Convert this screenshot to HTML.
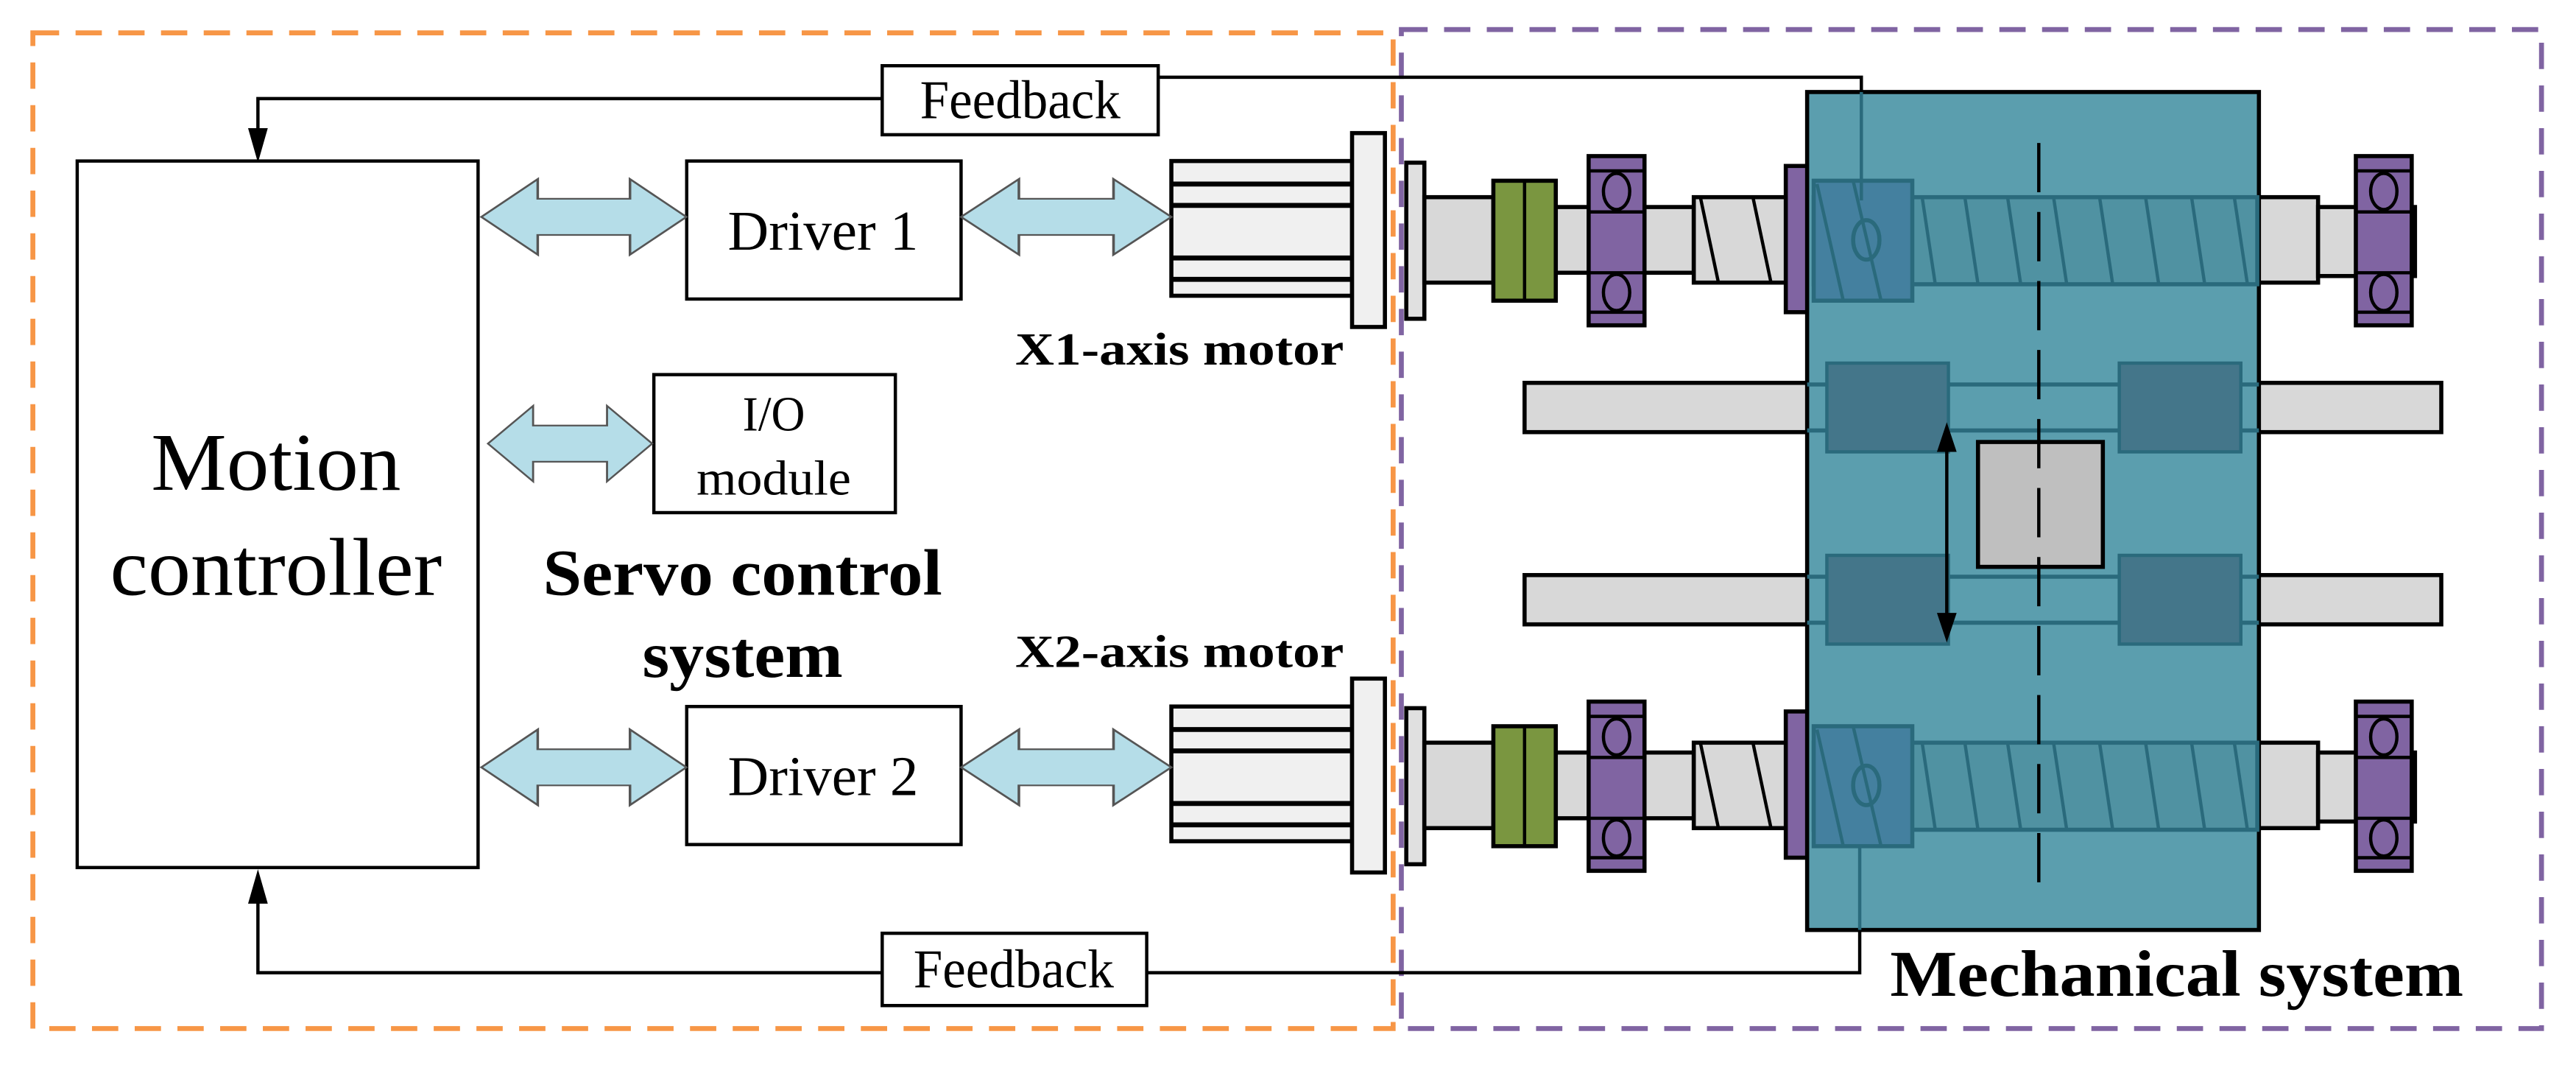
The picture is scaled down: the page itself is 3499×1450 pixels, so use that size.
<!DOCTYPE html>
<html><head><meta charset="utf-8"><style>
html,body{margin:0;padding:0;background:#fff;}
svg{display:block;}
text{font-family:"Liberation Serif",serif;}
</style></head><body>
<svg width="3499" height="1450" viewBox="0 0 1568 650" preserveAspectRatio="none" xmlns="http://www.w3.org/2000/svg">
<defs>
<g id="dbl"><polygon points="0,0 22,-23 22,-11 58,-11 58,-23 80,0 58,23 58,11 22,11 22,23" fill="#b5dde8" stroke="#555" stroke-width="1"/></g>
<g id="brg">
 <rect x="0" y="95" width="34" height="103" fill="#8064a2" stroke="#000" stroke-width="2.5"/>
 <line x1="0" y1="104" x2="34" y2="104" stroke="#000" stroke-width="2"/>
 <line x1="0" y1="129" x2="34" y2="129" stroke="#000" stroke-width="2"/>
 <line x1="0" y1="166" x2="34" y2="166" stroke="#000" stroke-width="2"/>
 <line x1="0" y1="190" x2="34" y2="190" stroke="#000" stroke-width="2"/>
 <ellipse cx="17" cy="116.5" rx="8" ry="11" fill="none" stroke="#000" stroke-width="2"/>
 <ellipse cx="17" cy="178" rx="8" ry="11" fill="none" stroke="#000" stroke-width="2"/>
</g>
<g id="screw">
 <rect x="713" y="98" width="110" height="82" fill="#f0f0f0" stroke="#000" stroke-width="2.5"/>
 <line x1="713" y1="112" x2="823" y2="112" stroke="#000" stroke-width="3"/>
 <line x1="713" y1="125" x2="823" y2="125" stroke="#000" stroke-width="3"/>
 <line x1="713" y1="157" x2="823" y2="157" stroke="#000" stroke-width="3"/>
 <line x1="713" y1="170" x2="823" y2="170" stroke="#000" stroke-width="3"/>
 <rect x="823" y="81" width="20" height="118" fill="#f0f0f0" stroke="#000" stroke-width="2.5"/>
 <rect x="856" y="99" width="11" height="95" fill="#e0e0e0" stroke="#000" stroke-width="2.5"/>
 <rect x="867" y="120" width="42" height="52" fill="#d8d8d8" stroke="#000" stroke-width="2.5"/>
 <rect x="947" y="126" width="84" height="40" fill="#d8d8d8" stroke="#000" stroke-width="2.5"/>
 <rect x="1031" y="120" width="57" height="52" fill="#d8d8d8" stroke="#000" stroke-width="2.5"/>
 <line x1="1035" y1="120" x2="1046" y2="172" stroke="#000" stroke-width="2"/>
 <line x1="1067" y1="120" x2="1078" y2="172" stroke="#000" stroke-width="2"/>
 <rect x="909" y="110" width="38" height="73" fill="#7a9640" stroke="#000" stroke-width="2.5"/>
 <line x1="928" y1="110" x2="928" y2="183" stroke="#000" stroke-width="2"/>
 <use href="#brg" x="967"/>
 <rect x="1360" y="120" width="51" height="52" fill="#d8d8d8" stroke="#000" stroke-width="2.5"/>
 <rect x="1411" y="126" width="59" height="42" fill="#d8d8d8" stroke="#000" stroke-width="2.5"/>
 <use href="#brg" x="1434"/>
 <rect x="1087" y="101" width="17" height="89" fill="#8064a2" stroke="#000" stroke-width="2.5"/>
</g>
<g id="screwblue">
 <rect x="1104" y="120" width="270" height="53" fill="#2f6f80" fill-opacity="0.25" stroke="#2a6a7c" stroke-width="2.5"/>
 <g stroke="#2a6a7c" stroke-width="2">
  <line x1="1170" y1="120" x2="1178" y2="173"/><line x1="1196" y1="120" x2="1204" y2="173"/>
  <line x1="1222" y1="120" x2="1230" y2="173"/><line x1="1250" y1="120" x2="1258" y2="173"/>
  <line x1="1278" y1="120" x2="1286" y2="173"/><line x1="1306" y1="120" x2="1314" y2="173"/>
  <line x1="1334" y1="120" x2="1342" y2="173"/><line x1="1360" y1="120" x2="1368" y2="173"/>
 </g>
 <rect x="1104" y="110" width="60" height="73" fill="#44809f" stroke="#2a6a7c" stroke-width="2.5"/>
 <line x1="1106" y1="112" x2="1122" y2="183" stroke="#2a6a7c" stroke-width="2"/>
 <line x1="1128" y1="110" x2="1145" y2="183" stroke="#2a6a7c" stroke-width="2"/>
 <ellipse cx="1136" cy="146" rx="8" ry="12" fill="none" stroke="#2a6a7c" stroke-width="2.5"/>
</g>
</defs>

<rect x="20" y="20" width="828" height="606" fill="none" stroke="#f79646" stroke-width="3" stroke-dasharray="16,10"/>
<rect x="853" y="18" width="694" height="608" fill="none" stroke="#8064a2" stroke-width="3" stroke-dasharray="16,10"/>

<use href="#screw"/>
<use href="#screw" transform="translate(0,332)"/>
<rect x="928" y="233" width="558" height="30" fill="#d8d8d8" stroke="#000" stroke-width="2.5"/>
<rect x="928" y="350" width="558" height="30" fill="#d8d8d8" stroke="#000" stroke-width="2.5"/>

<rect x="1100" y="56" width="275" height="510" fill="#5b9eae" stroke="#000" stroke-width="2.5"/>
<use href="#screwblue"/>
<use href="#screwblue" transform="translate(0,332)"/>
<g stroke="#2a6a7c" stroke-width="2.5" fill="none">
 <line x1="1100" y1="234" x2="1375" y2="234"/><line x1="1100" y1="262" x2="1375" y2="262"/>
 <line x1="1100" y1="351" x2="1375" y2="351"/><line x1="1100" y1="379" x2="1375" y2="379"/>
</g>
<g fill="#44768a" stroke="#2a6a7c" stroke-width="2">
 <rect x="1112" y="221" width="74" height="54"/><rect x="1290" y="221" width="74" height="54"/>
 <rect x="1112" y="338" width="74" height="54"/><rect x="1290" y="338" width="74" height="54"/>
</g>
<rect x="1204" y="269" width="76" height="76" fill="#bfbfbf" stroke="#000" stroke-width="2.5"/>
<line x1="1241" y1="87" x2="1241" y2="548" stroke="#000" stroke-width="2" stroke-dasharray="30,12"/>
<line x1="1185" y1="268" x2="1185" y2="380" stroke="#000" stroke-width="2"/>
<polygon points="1185,257 1179,275 1191,275" fill="#000"/>
<polygon points="1185,391 1179,373 1191,373" fill="#000"/>

<!-- feedback lines -->
<line x1="1133" y1="56" x2="1133" y2="122" stroke="#2a6a7c" stroke-width="2"/>
<polyline points="1133,56 1133,47 705,47" fill="none" stroke="#000" stroke-width="2"/>
<polyline points="537,60 157,60 157,80" fill="none" stroke="#000" stroke-width="2"/>
<polygon points="151,78 163,78 157,99" fill="#000"/>
<line x1="1132" y1="515" x2="1132" y2="566" stroke="#2a6a7c" stroke-width="2"/>
<polyline points="1132,566 1132,592 698,592" fill="none" stroke="#000" stroke-width="2"/>
<polyline points="537,592 157,592 157,548" fill="none" stroke="#000" stroke-width="2"/>
<polygon points="151,550 163,550 157,529" fill="#000"/>

<rect x="537" y="40" width="168" height="42" fill="#fff" stroke="#000" stroke-width="2"/>
<text x="621" y="72" font-size="33" text-anchor="middle" textLength="122" lengthAdjust="spacingAndGlyphs">Feedback</text>
<rect x="537" y="568" width="161" height="44" fill="#fff" stroke="#000" stroke-width="2"/>
<text x="617" y="601" font-size="33" text-anchor="middle" textLength="122" lengthAdjust="spacingAndGlyphs">Feedback</text>

<rect x="47" y="98" width="244" height="430" fill="#fff" stroke="#000" stroke-width="2"/>
<text x="168" y="298" font-size="50" text-anchor="middle" textLength="152" lengthAdjust="spacingAndGlyphs">Motion</text>
<text x="168" y="362" font-size="50" text-anchor="middle" textLength="202" lengthAdjust="spacingAndGlyphs">controller</text>

<rect x="418" y="98" width="167" height="84" fill="#fff" stroke="#000" stroke-width="2"/>
<text x="501" y="152" font-size="34" text-anchor="middle" textLength="116" lengthAdjust="spacingAndGlyphs">Driver 1</text>
<rect x="418" y="430" width="167" height="84" fill="#fff" stroke="#000" stroke-width="2"/>
<text x="501" y="484" font-size="34" text-anchor="middle" textLength="116" lengthAdjust="spacingAndGlyphs">Driver 2</text>
<rect x="398" y="228" width="147" height="84" fill="#fff" stroke="#000" stroke-width="2"/>
<text x="471" y="262" font-size="30" text-anchor="middle" textLength="38" lengthAdjust="spacingAndGlyphs">I/O</text>
<text x="471" y="301" font-size="30" text-anchor="middle" textLength="94" lengthAdjust="spacingAndGlyphs">module</text>

<use href="#dbl" transform="translate(293,132) scale(1.56,1)"/>
<use href="#dbl" transform="translate(585,132) scale(1.6,1)"/>
<use href="#dbl" transform="translate(297,270) scale(1.25,1)"/>
<use href="#dbl" transform="translate(293,467) scale(1.56,1)"/>
<use href="#dbl" transform="translate(585,467) scale(1.6,1)"/>

<text x="452" y="362" font-size="40" font-weight="bold" text-anchor="middle" textLength="243" lengthAdjust="spacingAndGlyphs">Servo control</text>
<text x="452" y="412" font-size="40" font-weight="bold" text-anchor="middle" textLength="122" lengthAdjust="spacingAndGlyphs">system</text>
<text x="718" y="222" font-size="28" font-weight="bold" text-anchor="middle" textLength="200" lengthAdjust="spacingAndGlyphs">X1-axis motor</text>
<text x="718" y="406" font-size="28" font-weight="bold" text-anchor="middle" textLength="200" lengthAdjust="spacingAndGlyphs">X2-axis motor</text>
<text x="1325" y="606" font-size="40" font-weight="bold" text-anchor="middle" textLength="349" lengthAdjust="spacingAndGlyphs">Mechanical  system</text>
</svg>
</body></html>
